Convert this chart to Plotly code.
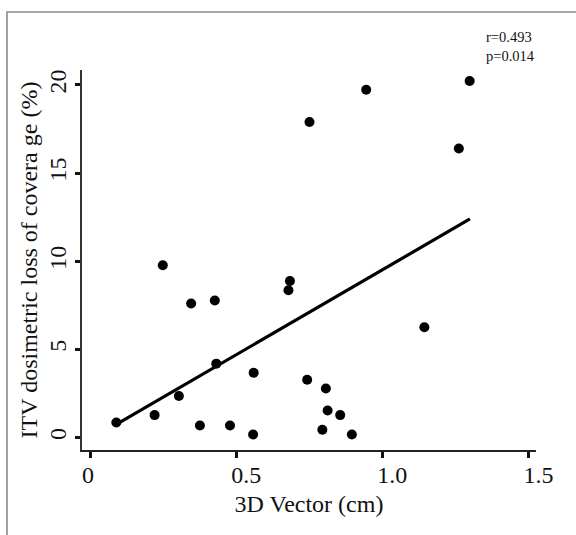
import plotly.graph_objects as go

# Data
vector_cm = [0.09, 0.221, 0.249, 0.304, 0.346, 0.376, 0.427, 0.432, 0.479, 0.558,
             0.560, 0.679, 0.684, 0.743, 0.751, 0.795, 0.807, 0.813, 0.856, 0.896,
             0.945, 1.144, 1.262, 1.299]
loss_pct = [0.85, 1.27, 9.77, 2.35, 7.6, 0.68, 7.77, 4.19, 0.68, 0.17,
            3.67, 8.35, 8.88, 3.28, 17.9, 0.44, 2.78, 1.53, 1.27, 0.17,
            19.73, 6.25, 16.4, 20.23]

fit_x = [0.09, 1.30]
fit_y = [0.74, 12.4]

x_tickvals = [0, 0.5, 1.0, 1.5]
x_ticktext = ["0\u2007\u2007", "0.5", "1.0", "1.5"]
y_tickvals = [0, 5, 10, 15, 20]
y_ticktext = ["0", "5", "10", "15", "20"]

stats_text = "r=0.493<br>p=0.014"

FONT = "Liberation Serif"
W, H = 576, 535
ML, MR, MT, MB = 82, 40, 70, 85
pw = W - ML - MR
ph = H - MT - MB

fig = go.Figure()
fig.add_trace(go.Scatter(x=fit_x, y=fit_y, mode="lines",
                         line=dict(color="black", width=3.2), hoverinfo="skip"))
fig.add_trace(go.Scatter(x=vector_cm, y=loss_pct, mode="markers",
                         marker=dict(color="black", size=10, line=dict(width=0))))

fig.update_layout(
    width=W, height=H,
    margin=dict(l=ML, r=MR, t=MT, b=MB, autoexpand=False),
    paper_bgcolor="white", plot_bgcolor="white",
    showlegend=False,
    font=dict(family=FONT, color="#111111", size=24),
    xaxis=dict(range=[-0.0274, 1.526], tickvals=x_tickvals, ticktext=x_ticktext,
               automargin=False, ticklabelshift=10, ticklabelstandoff=-4,
               showgrid=False, zeroline=False, showline=True, linecolor="#222222",
               linewidth=2, ticks="outside", ticklen=6, tickwidth=2.5, tickcolor="#111111",
               tickfont=dict(size=24, family=FONT),
               title=dict(text="3D Vector (cm)", font=dict(size=24, family=FONT), standoff=8)),
    yaxis=dict(range=[-0.71, 20.85], tickvals=y_tickvals, ticktext=y_ticktext,
               automargin=False,
               showgrid=False, zeroline=False, showline=True, linecolor="#333333",
               linewidth=1.6, ticks="outside", ticklen=5, tickwidth=2.5, tickcolor="#111111",
               tickangle=-90, tickfont=dict(size=24, family=FONT),
               title=dict(text="ITV dosimetric loss of covera ge (%)",
                          font=dict(size=24, family=FONT), standoff=0)),
)

# outer gray frame (extends past right and bottom edges)
fig.add_shape(type="rect", xref="paper", yref="paper",
              x0=(7 - ML) / pw, x1=(W + 10 - ML) / pw,
              y0=(H - MB - (H + 10)) / ph, y1=(H - MB - 12) / ph,
              line=dict(color="#8a8a8a", width=1.6), fillcolor="rgba(0,0,0,0)", layer="below")

fig.add_annotation(xref="paper", yref="paper", x=(484 - ML) / pw, y=(H - MB - 46) / ph,
                   xanchor="left", yanchor="middle", align="left", showarrow=False,
                   text=stats_text, font=dict(size=14.5, family=FONT, color="#111111"))

fig.write_html("out.html",
               config={"displayModeBar": False},
               post_script="document.body.style.margin='0';document.body.style.padding='0';"
                           "document.body.style.overflow='hidden';")
